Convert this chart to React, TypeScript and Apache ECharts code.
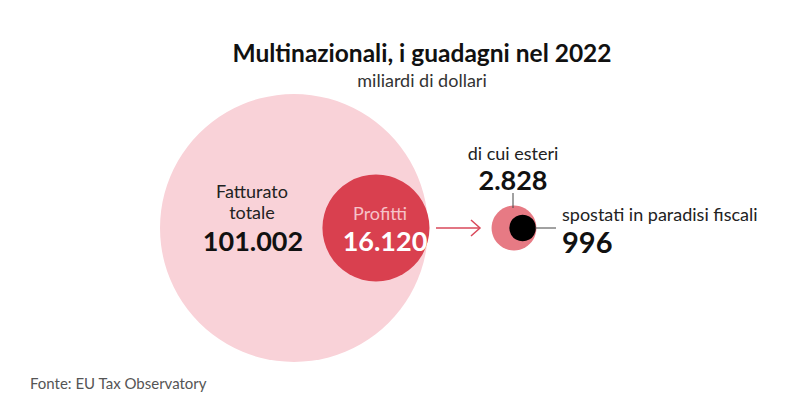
import React, { useEffect, useRef } from "react";
import * as echarts from "echarts";

const TITLE = "Multinazionali, i guadagni nel 2022";
const SUBTITLE = "miliardi di dollari";
const SOURCE = "Fonte: EU Tax Observatory";
const NAMES = ["Fatturato totale", "Profitti", "di cui esteri", "spostati in paradisi fiscali"];
const VALUES = [101002, 16120, 2828, 996];

const fmt = (v: number) => String(v).replace(/\B(?=(\d{3})+(?!\d))/g, ".");

export default function App() {
  const ref = useRef<HTMLDivElement>(null);
  useEffect(() => {
    if (!ref.current) return;
    const chart = echarts.init(ref.current, null, { renderer: "svg" });
    const R0 = 134;
    const k = R0 / Math.sqrt(VALUES[0]);
    const r = VALUES.map((v) => k * Math.sqrt(v));
    const cy = 228;
    const cx0 = 294;
    const cx1 = cx0 + R0 - r[1] + 1.5;
    const cx2 = 514;
    const cx3 = cx2 + r[2] - r[3] - 0.5;
    const pos = [[cx0, cy], [cx1, cy], [cx2, cy], [cx3, cy]];
    const colors = ["#f9d2d8", "#d9404f", "#e77a84", "#000000"];
    const data = VALUES.map((v, i) => ({
      name: NAMES[i],
      value: [pos[i][0], pos[i][1], v],
      itemStyle: { color: colors[i], opacity: 1 },
    }));
    const F = "Lato, 'Noto Sans', sans-serif";
    const t = (text: string, x: number, y: number, font: string, fill: string, lh: number, align = "center") => ({
      type: "text",
      z: 10,
      style: { text, x, y, textAlign: align, verticalAlign: "middle", font, fill, lineHeight: lh },
    });
    chart.setOption({
      animation: false,
      grid: { left: 0, right: 0, top: 0, bottom: 0 },
      xAxis: { type: "value", min: 0, max: 800, show: false },
      yAxis: { type: "value", min: 0, max: 412, inverse: true, show: false },
      series: [
        {
          type: "scatter",
          data,
          symbolSize: (val: number[]) => 2 * k * Math.sqrt(val[2]),
          silent: true,
          z: 2,
        },
      ],
      graphic: [
        t(TITLE, 422, 52, `bold 24.5px ${F}`, "#111", 24),
        t(SUBTITLE, 422, 80, `18px ${F}`, "#333", 18),
        t("Fatturato", 252, 191, `18px ${F}`, "#222", 17),
        t("totale", 252, 212, `18px ${F}`, "#222", 17),
        t(fmt(VALUES[0]), 253, 240, `bold 27px ${F}`, "#111", 22),
        t("Profitti", 380, 213, `18px ${F}`, "#f6c3c9", 17),
        t(fmt(VALUES[1]), 385, 240, `bold 27px ${F}`, "#ffffff", 22),
        { type: "polyline", z: 10, shape: { points: [[436, 228], [479, 228]] }, style: { stroke: "#d9485a", lineWidth: 1.5 } },
        { type: "polyline", z: 10, shape: { points: [[471, 220], [480, 228], [471, 236]] }, style: { stroke: "#d9485a", lineWidth: 1.5, fill: "none" } },
        t("di cui esteri", 513, 153, `18px ${F}`, "#222", 17),
        t(fmt(VALUES[2]), 513, 179, `bold 27px ${F}`, "#111", 22),
        { type: "line", z: 10, shape: { x1: 513, y1: 193, x2: 513, y2: 208 }, style: { stroke: "#444", lineWidth: 1 } },
        { type: "line", z: 10, shape: { x1: 535, y1: 228, x2: 556, y2: 228 }, style: { stroke: "#444", lineWidth: 1 } },
        t("spostati in paradisi fiscali", 562, 214, `18px ${F}`, "#222", 17, "left"),
        t(fmt(VALUES[3]), 562, 241, `bold 29px ${F}`, "#111", 24, "left"),
        t(SOURCE, 30, 383, `15px ${F}`, "#555", 15, "left"),
      ],
    });
    return () => chart.dispose();
  }, []);
  return <div ref={ref} style={{ position: "fixed", left: 0, top: 0, width: 800, height: 412, background: "#fff" }} />;
}
